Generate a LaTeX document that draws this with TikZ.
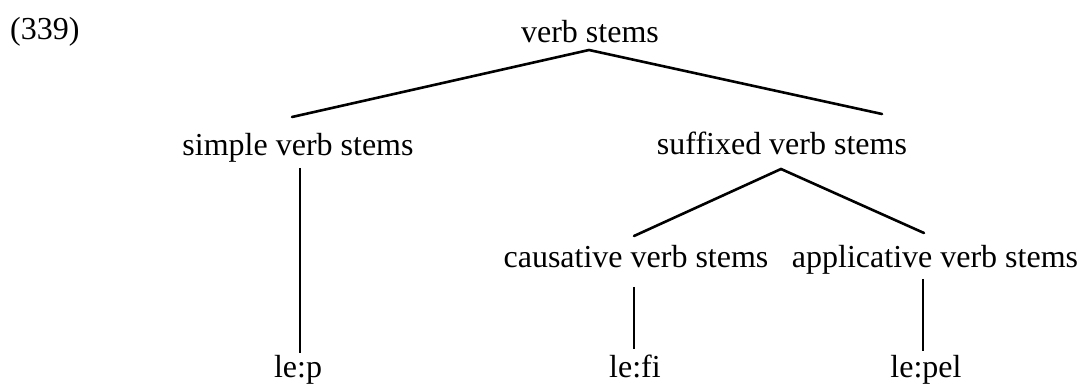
\documentclass[tikz,border=0pt]{standalone}
\usepackage{fontspec}
\setmainfont{Liberation Serif}
\usepackage{tikz}

\begin{document}
\begin{tikzpicture}[
			x=1pt, y=-1pt,
			lbl/.style={anchor=base, inner sep=0pt, font=\fontsize{32}{38}\selectfont}, % tree labels
			branch/.style={line width=2.6pt, line cap=round}, % slanted branches
			stem/.style={line width=1.7pt}, % unary branches
		]
		\useasboundingbox (0,0) rectangle (1087,387);

		% --- example number and the tree labels
		\node[lbl,anchor=base west] (num) at (10,40) {(339)};
		\node[lbl] (top) at (590,43) {verb stems};
		\node[lbl] (simple) at (298,156) {simple verb stems};
		\node[lbl] (suff) at (782,155) {suffixed verb stems};
		\node[lbl] (caus) at (636,268) {causative verb stems};
		\node[lbl] (appl) at (935,268) {applicative verb stems};
		\node[lbl] (lep) at (298,377) {le:p};
		\node[lbl] (lefi) at (635,377) {le:fi};
		\node[lbl] (lepel) at (926,377) {le:pel};

		% --- branch end points
		\path (top.base) ++(-1,7) coordinate (top-a);
		\path (simple.base) ++(-6,-39) coordinate (simple-t);
		\path (suff.base) ++(100,-41) coordinate (suff-t);
		\path (suff.base) ++(-1,14) coordinate (suff-a);
		\path (caus.base) ++(-2,-32) coordinate (caus-t);
		\path (appl.base) ++(-11,-35) coordinate (appl-t);
		\path (simple.base) ++(2,12) coordinate (simple-b);
		\path (lep.base) ++(2,-24) coordinate (lep-t);
		\path (caus.base) ++(-2,19) coordinate (caus-b);
		\path (lefi.base) ++(-1,-28) coordinate (lefi-t);
		\path (appl.base) ++(-12,11) coordinate (appl-b);
		\path (lepel.base) ++(-3,-26) coordinate (lepel-t);

		% --- upper levels
		\draw[branch] (simple-t) -- (top-a) -- (suff-t);
		\draw[branch] (caus-t) -- (suff-a) -- (appl-t);

		% --- unary branches down to the forms
		\draw[stem] (simple-b) -- (lep-t);
		\draw[stem] (caus-b) -- (lefi-t);
		\draw[stem] (appl-b) -- (lepel-t);
	\end{tikzpicture}
\end{document}
